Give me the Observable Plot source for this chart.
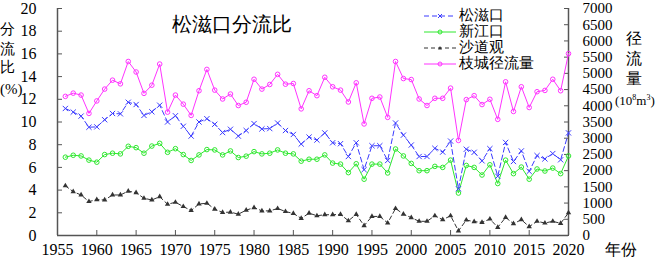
<!DOCTYPE html>
<html><head><meta charset="utf-8">
<script src="https://cdn.jsdelivr.net/npm/d3@7"></script>
<script src="https://cdn.jsdelivr.net/npm/@observablehq/plot@0.6"></script>
<style>
body{margin:0;background:#fff;}
#wrap{position:relative;width:661px;height:262px;font-family:"Liberation Serif","Times New Roman",Times,serif;color:#000;}
#wrap svg, #wrap svg text{font-family:"Liberation Serif","Times New Roman",Times,serif !important;}
.lab{position:absolute;white-space:nowrap;line-height:1;}
</style></head><body><div id="wrap"></div>
<script>
const years = [1956,1957,1958,1959,1960,1961,1962,1963,1964,1965,1966,1967,1968,1969,1970,1971,1972,1973,1974,1975,1976,1977,1978,1979,1980,1981,1982,1983,1984,1985,1986,1987,1988,1989,1990,1991,1992,1993,1994,1995,1996,1997,1998,1999,2000,2001,2002,2003,2004,2005,2006,2007,2008,2009,2010,2011,2012,2013,2014,2015,2016,2017,2018,2019,2020];
const songzikou = [11.19,10.87,10.52,9.54,9.57,10.2,10.75,10.72,11.74,11.54,10.58,10.9,11.48,10.0,10.55,9.62,
  8.76,10.0,10.29,9.8,9.07,9.36,8.76,9.25,9.86,9.39,9.42,9.91,9.25,8.9,8.06,8.67,8.41,
  9.04,8.17,8.09,6.96,8.17,5.8,7.91,7.91,6.61,9.91,8.84,7.97,6.96,6.96,7.68,7.35,
  8.32,4.12,7.6,7.33,6.58,7.65,5.22,8.2,6.52,7.45,5.65,7.04,6.75,7.22,6.67,9.04];
const xinjiangkou = [6.9,7.07,7.01,6.64,6.46,7.13,7.25,7.19,7.86,7.74,7.25,7.88,8.12,7.33,7.65,7.13,
  6.61,7.1,7.57,7.54,7.1,7.45,6.87,6.99,7.39,7.19,7.25,7.54,7.25,7.19,6.55,6.72,6.72,
  7.1,6.38,6.29,5.54,6.32,4.96,6.29,6.29,5.51,7.62,7.01,6.35,5.71,5.71,6.09,6.0,
  6.64,3.74,6.17,6.0,5.33,6.23,4.58,6.64,5.45,6.03,4.96,5.86,5.68,5.94,5.45,7.01];
const shadaoguan = [4.38,3.86,3.57,2.99,3.16,3.13,3.57,3.57,3.91,3.77,3.28,3.13,3.42,2.75,2.93,2.55,
  2.2,2.78,2.84,2.32,2.03,2.06,1.88,2.23,2.46,2.17,2.17,2.38,2.11,1.94,1.51,1.97,1.74,
  1.83,1.83,1.86,1.3,1.86,0.87,1.68,1.68,1.1,2.38,1.88,1.57,1.25,1.25,1.74,1.39,
  1.74,0.41,1.36,1.22,1.16,1.45,0.72,1.59,1.04,1.39,0.78,1.25,1.1,1.25,1.07,2.0];
const zhicheng = [4290,4390,4330,3765,4150,4515,4790,4677,5366,5042,4383,4635,5287,3804,4330,4050,
  3704,4464,5122,4483,4210,4362,4008,4109,4818,4515,4657,4970,4666,4687,3905,4464,4312,
  4879,4586,4483,4118,4708,3440,4231,4270,3643,5366,4840,4809,4210,4008,4231,4231,
  4545,2932,4190,4312,4038,4200,3582,4739,3825,4586,3947,4434,4474,4818,4464,5609];
const xTicks = [1955,1960,1965,1970,1975,1980,1985,1990,1995,2000,2005,2010,2015,2020];
const yTicks = [0,2,4,6,8,10,12,14,16,18,20];
const y2Ticks = [0,500,1000,1500,2000,2500,3000,3500,4000,4500,5000,5500,6000,6500,7000];
const ratio = 350; // 7000 / 20
const seriesNames = ["松滋口","新江口","沙道观","枝城径流量"];
const colors = ["#3b3bff","#2ee82e","#333333","#ff33ff"];

const tab = (vals) => years.map((yr,i)=>({year:yr, v:vals[i]}));
const sz = tab(songzikou), xj = tab(xinjiangkou), sd = tab(shadaoguan);
const zc = years.map((yr,i)=>({year:yr, v:zhicheng[i]/ratio}));
const axisColor = "#555";

const chart = Plot.plot({
  width: 661, height: 262,
  marginLeft: 57, marginRight: 93, marginTop: 8, marginBottom: 27,
  style: {fontSize: "15px", color: "#000", background: "#fff", overflow: "visible"},
  x: {domain: [1955, 2020]},
  y: {domain: [0, 20]},
  marks: [
    Plot.axisX(xTicks, {tickSize: -5, tickPadding: 13, tickFormat: d=>String(d), label: null, stroke: axisColor, fill: "#000", fontSize: 16}),
    Plot.axisY(yTicks, {anchor: "left", tickSize: -5, tickPadding: 26, label: null, stroke: axisColor, fill: "#000", fontSize: 16}),
    Plot.axisY(y2Ticks.map(d=>d/ratio), {anchor: "right", tickSize: -5, tickPadding: 19, tickFormat: d=>String(Math.round(d*ratio)), label: null, stroke: axisColor, fill: "#000", fontSize: 15}),
    Plot.ruleX([1955], {stroke: axisColor, strokeWidth: 1.5}),
    Plot.ruleX([2020], {stroke: axisColor, strokeWidth: 1.5}),
    Plot.ruleY([0], {stroke: axisColor, strokeWidth: 1.5}),
    Plot.line(zc, {x:"year", y:"v", stroke: colors[3], strokeWidth: 1}),
    Plot.dot(zc, {x:"year", y:"v", stroke: colors[3], r: 2.3, fill: "none", strokeWidth: 1}),
    Plot.line(sd, {x:"year", y:"v", stroke: colors[2], strokeWidth: 1, strokeDasharray: "4,3"}),
    Plot.dot(sd, {x:"year", y:"v", symbol: "triangle", fill: colors[2], r: 2}),
    Plot.line(xj, {x:"year", y:"v", stroke: colors[1], strokeWidth: 1}),
    Plot.dot(xj, {x:"year", y:"v", stroke: colors[1], r: 2.3, fill: "none", strokeWidth: 1}),
    Plot.line(sz, {x:"year", y:"v", stroke: colors[0], strokeWidth: 1, strokeDasharray: "5,3"}),
    Plot.dot(sz, {x:"year", y:"v", symbol: "times", stroke: colors[0], r: 2.5, strokeWidth: 1})
  ]
});
const wrap = document.getElementById("wrap");
wrap.appendChild(chart);

function addLab(html, left, top, size, extra) {
  const d = document.createElement("div");
  d.className = "lab";
  d.innerHTML = html;
  d.style.left = left + "px"; d.style.top = top + "px"; d.style.fontSize = size + "px";
  if (extra) Object.assign(d.style, extra);
  wrap.appendChild(d);
}
// title
addLab("松滋口分流比", 172, 14, 20);
// left axis label
addLab("分", 0, 22, 15); addLab("流", 0, 42, 15); addLab("比", 0, 60, 15); addLab("(%)", 0, 82, 15);
// right axis label
addLab("径", 626, 31, 16); addLab("流", 626, 51, 16); addLab("量", 626, 71, 16);
addLab("(10<sup style='font-size:8px'>8</sup>m<sup style='font-size:8px'>3</sup>)", 615, 94, 13);
// x label
addLab("年份", 605, 242, 16);
// legend
const legTop = [15.5, 31.5, 47.5, 64];
const dashes = ["5,3", null, "4,3", null];
const syms = ["times","circle","triangle","circle"];
seriesNames.forEach((name, i) => {
  const s = document.createElementNS("http://www.w3.org/2000/svg","svg");
  s.setAttribute("width", 34); s.setAttribute("height", 10);
  s.style.position = "absolute"; s.style.left = "423px"; s.style.top = (legTop[i]-5) + "px";
  let inner = `<line x1="1" x2="33" y1="5" y2="5" stroke="${colors[i]}" stroke-width="1" ${dashes[i] ? `stroke-dasharray="${dashes[i]}"` : ""}/>`;
  if (syms[i] === "times") inner += `<path d="M15,3L19,7M19,3L15,7" stroke="${colors[i]}" stroke-width="1"/>`;
  else if (syms[i] === "circle") inner += `<circle cx="17" cy="5" r="2" fill="none" stroke="${colors[i]}"/>`;
  else inner += `<path d="M17,3L19,6.5L15,6.5Z" fill="${colors[i]}"/>`;
  s.innerHTML = inner;
  wrap.appendChild(s);
  addLab(name, 459, legTop[i]-8, 15);
});
</script></body></html>
